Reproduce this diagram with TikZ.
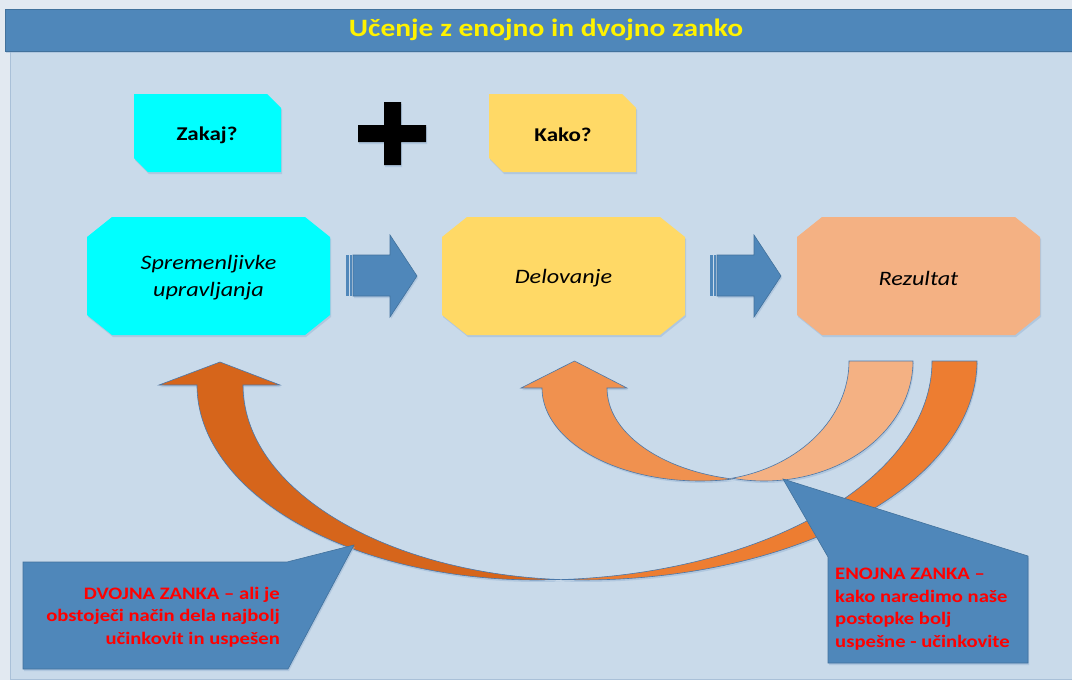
\documentclass[tikz,border=0pt]{standalone}
\usepackage{fontspec}
\setmainfont{Carlito}[FakeStretch=1.18]
\usetikzlibrary{shadows}

\definecolor{pagebg}{HTML}{E2E9F1}
\definecolor{panelfill}{HTML}{C9DAEA}
\definecolor{panelline}{HTML}{A9C0D8}
\definecolor{barfill}{HTML}{4F87BA}
\definecolor{barline}{HTML}{41719C}
\definecolor{softshade}{HTML}{9DB9D6}
\definecolor{aqua}{HTML}{00FFFF}
\definecolor{sand}{HTML}{FFD966}
\definecolor{peach}{HTML}{F4B183}
\definecolor{orangemid}{HTML}{F0914F}
\definecolor{orangebright}{HTML}{ED7D31}
\definecolor{orangedeep}{HTML}{D6651B}
\definecolor{edgeblue}{HTML}{4A78AA}

% octagonal box with cut corners (x1,y1)-(x2,y2)
\newcommand\octagonbox[5]{%
  \path[#5] ({#1+25},#2) -- ({#3-25},#2) -- (#3,{#2+20}) -- (#3,{#4-20})
    -- ({#3-25},#4) -- ({#1+25},#4) -- (#1,{#4-20}) -- (#1,{#2+20}) -- cycle;}
% box with snipped top-right and bottom-left corners
\newcommand\snipbox[5]{%
  \path[#5] (#1,#2) -- ({#3-14},#2) -- (#3,{#2+14}) -- (#3,#4)
    -- ({#1+14},#4) -- (#1,{#4-14}) -- cycle;}
% striped block arrow starting at x = #1
\newcommand\stripedarrow[1]{%
  \fill[barfill] (#1,255) rectangle ({#1+2.5},296);
  \fill[barfill] ({#1+3.5},255) rectangle ({#1+6},296);
  \path[blockarrow] ({#1+7},255) -- ({#1+44},255) -- ({#1+44},235) -- ({#1+71},276)
    -- ({#1+44},317) -- ({#1+44},296) -- ({#1+7},296) -- cycle;}

\begin{document}
\begin{tikzpicture}[x=1pt,y=-1pt,
  soft/.style={drop shadow={shadow xshift=1pt, shadow yshift=-2pt, fill=softshade, opacity=0.55}},
  boxshape/.style={soft},
  blockarrow/.style={fill=barfill, draw=barline, line width=0.6, soft},
  bandarrow/.style={draw=edgeblue, line width=0.6, soft},
  callout/.style={fill=barfill, draw=barline, line width=0.6, soft},
  boxtext/.style={font=\itshape\fontsize{20.5}{27}\selectfont, align=center, text=black},
  asktext/.style={font=\bfseries\fontsize{19.5}{24}\selectfont, text=black},
  redtext/.style={font=\bfseries\fontsize{17.5}{22.5}\selectfont, text=red, inner sep=0pt},
  titletext/.style={font=\bfseries\fontsize{25}{29}\selectfont, text=yellow}]
\useasboundingbox (0,0) rectangle (1072,680);
\fill[pagebg] (0,0) rectangle (1072,680);
\filldraw[fill=panelfill, draw=panelline, line width=0.8] (10.5,9) rectangle (1090,679.5);

% title bar
\path[fill=barfill, draw=barline, line width=1, soft] (5,9) rectangle (1090,51);
\node[titletext] (title) at (546,30) {Učenje z enojno in dvojno zanko};

% question boxes and plus sign
\snipbox{134}{94}{281}{172}{fill=aqua, boxshape}
\node[asktext] (zakaj) at (207,135) {Zakaj?};
\snipbox{489}{94}{636}{172}{fill=sand, boxshape}
\node[asktext] (kako) at (563,135) {Kako?};
\path[fill=black, soft] (358,125) -- (384,125) -- (384,102) -- (401,102) -- (401,125)
  -- (426,125) -- (426,142) -- (401,142) -- (401,165) -- (384,165) -- (384,142)
  -- (358,142) -- cycle;

% process boxes
\octagonbox{87}{217}{330}{335}{fill=aqua, boxshape}
\node[boxtext] (spr) at (208.5,278) {Spremenljivke\\upravljanja};
\octagonbox{442}{217}{685}{335}{fill=sand, boxshape}
\node[boxtext] (del) at (563.5,278) {Delovanje};
\octagonbox{797}{217}{1040}{335}{fill=peach, boxshape}
\node[boxtext] (rez) at (918.5,278) {Rezultat};

% arrows between the boxes
\stripedarrow{346}
\stripedarrow{710}

% double loop: long curved arrow back to the first box
\path[bandarrow, fill=orangebright] (977,361)
  arc[start angle=0, end angle={180-acos(22.5/395)}, x radius=395, y radius=219]
  arc[start angle={acos(22.5/395)}, end angle=0, x radius=395, y radius=219] -- cycle;
\path[bandarrow, fill=orangedeep] (197,385)
  arc[start angle=180, end angle={acos(23/340)}, x radius=340, y radius=195]
  arc[start angle={180-acos(23/340)}, end angle=180, x radius=340, y radius=195]
  -- (280,385) -- (220,362) -- (159,385) -- cycle;

% single loop: short curved arrow back to the action box
\path[bandarrow, fill=peach] (913,361)
  arc[start angle=0, end angle={180-acos(32/149)}, x radius=149, y radius=120]
  arc[start angle={acos(32/149)}, end angle=0, x radius=149, y radius=120] -- cycle;
\path[bandarrow, fill=orangemid] (542,388)
  arc[start angle=180, end angle={acos(32.5/158)}, x radius=158, y radius=93]
  arc[start angle={180-acos(32.5/158)}, end angle=180, x radius=158, y radius=93]
  -- (627,388) -- (574.5,361) -- (521,388) -- cycle;

% callouts
\path[callout] (23,562) -- (287,562) -- (354,545) -- (288,669) -- (23,669) -- cycle;
\node[redtext, anchor=east, align=right] (dvojna) at (280,617)
  {DVOJNA ZANKA – ali je\\obstoječi način dela najbolj\\učinkovit in uspešen};
\path[callout] (783,479) -- (1028,556) -- (1028,663) -- (828,663) -- (828,557) -- cycle;
\node[redtext, anchor=west, align=left] (enojna) at (835,609)
  {ENOJNA ZANKA –\\kako naredimo naše\\postopke bolj\\uspešne - učinkovite};
\end{tikzpicture}
\end{document}
